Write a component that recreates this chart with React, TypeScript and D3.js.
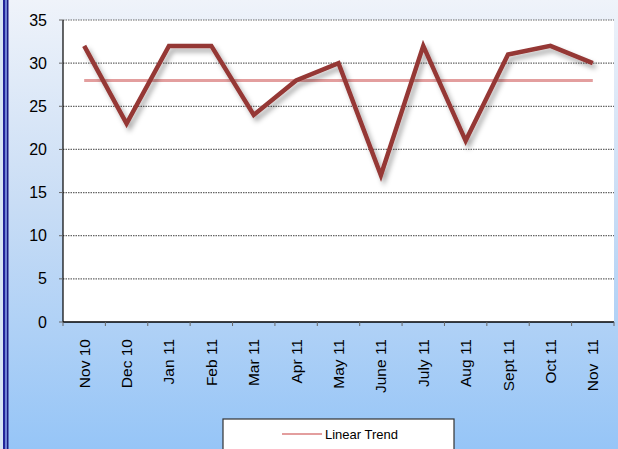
import React from 'react';
import * as d3 from 'd3';

// chart values
const months = ['Nov 10', 'Dec 10', 'Jan 11', 'Feb 11', 'Mar 11', 'Apr 11', 'May 11', 'June 11', 'July 11', 'Aug 11', 'Sept 11', 'Oct 11', 'Nov  11'];
const values = [32, 23, 32, 32, 24, 28, 30, 17, 32, 21, 31, 32, 30];
const trend = [28, 28, 28, 28, 28, 28, 28, 28, 28, 28, 28, 28, 28];
const yTicks = [0, 5, 10, 15, 20, 25, 30, 35];

const W = 618;
const H = 449;
const left = 63;
const right = 614;
const top = 20;
const bottom = 322;

const App: React.FC = () => {
  const x = d3.scaleBand<string>().domain(months).range([left, right]).paddingInner(0).paddingOuter(0);
  const y = d3.scaleLinear().domain([0, 35]).range([bottom, top]);
  const cx = (m: string) => (x(m) as number) + x.bandwidth() / 2;

  const line = d3
    .line<number>()
    .x((d, i) => cx(months[i]))
    .y((d) => y(d));

  // boundaries between categories for tick marks
  const bounds = months.map((m) => x(m) as number).concat([right]);

  const font = '"Liberation Sans", Arial, sans-serif';

  return (
    <svg width={W} height={H} style={{ position: 'absolute', left: 0, top: 0 }}>
      <defs>
        <linearGradient id="bg" x1="0" y1="0" x2="0" y2="1">
          <stop offset="0" stopColor="#eff3fa" />
          <stop offset="0.45" stopColor="#c9ddf5" />
          <stop offset="1" stopColor="#96c5f7" />
        </linearGradient>
        <filter id="shadow" x="-10%" y="-10%" width="120%" height="130%">
          <feDropShadow dx="3" dy="4" stdDeviation="2.6" floodColor="#000" floodOpacity="0.33" />
        </filter>
      </defs>
      <rect x={0} y={0} width={W} height={H} fill="url(#bg)" />
      {/* left frame strip */}
      <rect x={0} y={0} width={3} height={H} fill="#d8e4f4" />
      <rect x={3} y={0} width={2} height={H} fill="#22249a" />
      <rect x={5} y={0} width={2} height={H} fill="#6f82d4" />
      <rect x={7} y={0} width={1.5} height={H} fill="#1c1c84" />

      {/* plot area */}
      <rect x={left} y={top} width={right - left} height={bottom - top} fill="#fff" />

      {yTicks.filter((t) => t > 0).map((t) => (
        <line key={t} x1={left} x2={right} y1={y(t)} y2={y(t)} stroke="#666" strokeWidth={1.2} strokeDasharray="1.5 1" />
      ))}

      {/* axes */}
      <line x1={left} x2={left} y1={top} y2={bottom} stroke="#000" strokeWidth={1.2} />
      <line x1={left} x2={right} y1={bottom} y2={bottom} stroke="#000" strokeWidth={1.5} />
      {yTicks.map((t) => (
        <g key={t}>
          <line x1={left - 4} x2={left} y1={y(t)} y2={y(t)} stroke="#666" />
          <text x={47} y={y(t) + 5.5} textAnchor="end" fontFamily={font} fontSize={16} fill="#000">
            {t}
          </text>
        </g>
      ))}
      {bounds.map((b, i) => (
        <line key={i} x1={b} x2={b} y1={bottom} y2={bottom + 4} stroke="#666" />
      ))}
      {months.map((m) => (
        <text
          key={m}
          transform={`translate(${cx(m) + 5.5},${339}) rotate(-90)`}
          textAnchor="end"
          fontFamily={font}
          fontSize={15.5}
          fill="#000"
          style={{ whiteSpace: 'pre' }}
        >
          {m}
        </text>
      ))}

      {/* trend and data lines */}
      <path d={line(trend) as string} fill="none" stroke="#e39e9e" strokeWidth={3} />
      <path
        d={line(values) as string}
        fill="none"
        stroke="#953735"
        strokeWidth={4.5}
        strokeLinejoin="miter"
        filter="url(#shadow)"
      />

      {/* legend */}
      <rect x={223} y={419} width={231} height={34} fill="#fff" stroke="#333" strokeWidth={1.2} />
      <line x1={282} x2={322} y1={434} y2={434} stroke="#e39e9e" strokeWidth={2} />
      <text x={325} y={439} fontFamily={font} fontSize={13} fill="#000">
        Linear Trend
      </text>
    </svg>
  );
};

export default App;
